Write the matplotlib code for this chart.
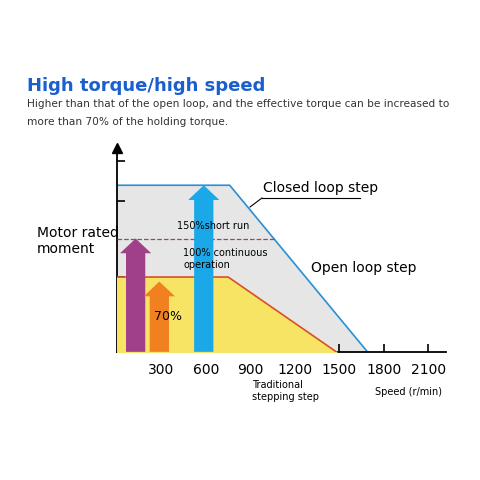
import matplotlib.pyplot as plt
from matplotlib.patches import FancyArrow

# speed (r/min) vs torque (% of rated)
closed_x = [0, 760, 1690]
closed_y = [147, 147, 0]
open_x = [0, 750, 1480]
open_y = [66, 66, 0]
rated = 100
rated_end = 1060
xticks = [300, 600, 900, 1200, 1500, 1800, 2100]
yticks = [34, 66, 133, 168]

# arrows: (centre speed, top torque, colour)
arrows = [(125, 100, '#a0408a'), (285, 62, '#f08020'), (585, 147, '#1aa8e8')]

fig = plt.figure(figsize=(4.8, 4.8), dpi=100)
ax = fig.add_axes([0.244, 0.267, 0.685, 0.425])
ax.set_xlim(0, 2220)
ax.set_ylim(0, 180)

ax.fill_between(closed_x, closed_y, color='#e6e6e6', zorder=1)
ax.plot(closed_x, closed_y, color='#2a90d8', lw=1.2, zorder=2)
ax.fill_between(open_x, open_y, color='#f8e464', zorder=3)
ax.plot(open_x, open_y, color='#d8502a', lw=1.2, zorder=4)
ax.plot([0, rated_end], [rated, rated], ls='--', color='#a0407a', lw=0.9, zorder=5)

for cx, top, col in arrows:
    ax.add_patch(FancyArrow(cx, 0, 0, top, width=130, head_width=210, head_length=13,
                            length_includes_head=True, color=col, lw=0, zorder=6))

for s in ['top', 'right']:
    ax.spines[s].set_visible(False)
ax.spines['left'].set_linewidth(1.3)
ax.spines['bottom'].set_linewidth(1.3)
ax.set_xticks(xticks)
ax.set_xticklabels([str(t) for t in xticks], fontsize=10)
ax.set_yticks(yticks)
ax.set_yticklabels([])
ax.tick_params(direction='in', length=6, width=1.2, pad=8)
ax.plot(0, 180, marker='^', color='black', ms=7, clip_on=False)

def ft(x, y, s, **kw):
    fig.text(x / 480, 1 - y / 480, s, **kw)

ft(27, 86, 'High torque/high speed', fontsize=13, color='#1a5fd0', fontweight='bold', va='center')
ft(27, 104, 'Higher than that of the open loop, and the effective torque can be increased to',
   fontsize=7.6, color='#333333', va='center')
ft(27, 122, 'more than 70% of the holding torque.', fontsize=7.6, color='#333333', va='center')
ft(263, 188, 'Closed loop step', fontsize=10, va='center')
fig.add_artist(plt.Line2D([262 / 480, 360 / 480], [1 - 198 / 480, 1 - 198 / 480], color='black', lw=0.8))
fig.add_artist(plt.Line2D([262 / 480, 250 / 480], [1 - 198 / 480, 1 - 207 / 480], color='black', lw=0.8))
ft(311, 268, 'Open loop step', fontsize=10, va='center')
ft(37, 241, 'Motor rated\nmoment', fontsize=10, va='center', linespacing=1.2)
ft(177, 226, '150%short run', fontsize=7, va='center')
ft(183, 259, '100% continuous\noperation', fontsize=7, va='center')
ft(154, 316, '70%', fontsize=9, va='center')
ft(252, 391, 'Traditional\nstepping step', fontsize=7, va='center')
ft(375, 392, 'Speed (r/min)', fontsize=7, va='center')

fig.savefig('out.png', dpi=100)
